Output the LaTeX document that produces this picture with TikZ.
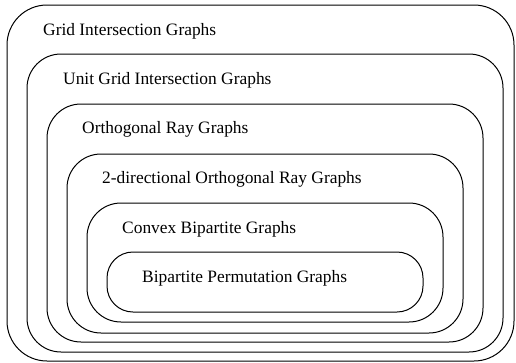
\documentclass[tikz,border=0pt]{standalone}
\usepackage{fontspec}
\setmainfont{Liberation Serif}

\tikzset{
  setbox/.style={draw, line width=1pt, rounded corners=#1},
  setbox/.default=34pt,
  setlabel/.style={anchor=base west, inner sep=0pt, font=\fontsize{17.4}{20}\selectfont}
}

\begin{document}
\begin{tikzpicture}[x=1pt, y=-1pt]

\useasboundingbox (0,0) rectangle (516,362);

% Nested classes, outermost first
\draw[setbox=40pt] (7,5) rectangle (514,361);
\foreach \l/\t/\r/\b in {27/54/503/352, 47/104/483/342, 67/154/463/333, 87/203/443/322} {
    \draw[setbox] (\l,\t) rectangle (\r,\b);
}
\draw[setbox=26pt] (107,252) rectangle (423,312);

% Class names
\node[setlabel] (gig)  at (43,35)  {Grid Intersection Graphs};
\node[setlabel] (ugig) at (63,84)  {Unit Grid Intersection Graphs};
\node[setlabel] (org)  at (82,133) {Orthogonal Ray Graphs};
\node[setlabel] (dorg) at (102,183) {2-directional Orthogonal Ray Graphs};
\node[setlabel] (cbg)  at (122,233) {Convex Bipartite Graphs};
\node[setlabel] (bpg)  at (142,282) {Bipartite Permutation Graphs};

\end{tikzpicture}
\end{document}
